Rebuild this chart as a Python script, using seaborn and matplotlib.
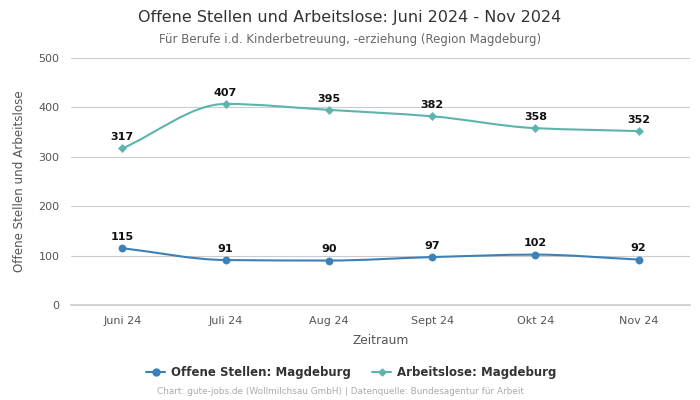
import matplotlib
matplotlib.use("Agg")
import matplotlib.pyplot as plt
import seaborn as sns
import numpy as np
import pandas as pd
from matplotlib.path import Path
from matplotlib.patches import PathPatch

categories = ["Juni 24", "Juli 24", "Aug 24", "Sept 24", "Okt 24", "Nov 24"]
offene = [115, 91, 90, 97, 102, 92]
arbeitslose = [317, 407, 395, 382, 358, 352]
name_off = "Offene Stellen: Magdeburg"
name_arb = "Arbeitslose: Magdeburg"
col_off = "#3b80b9"
col_arb = "#5bb5ae"

sns.set_theme(style="white")
plt.rcParams['font.family'] = ['DejaVu Sans']

df = pd.DataFrame({
    "x": list(range(len(categories))) * 2,
    "v": offene + arbeitslose,
    "s": [name_off] * len(offene) + [name_arb] * len(arbeitslose),
})

fig = plt.figure(figsize=(7, 4), dpi=100)
ax = fig.add_axes([0.101, 0.2375, 0.885, 0.6175])


def monotone_path(xs, ys):
    xs = np.asarray(xs, float); ys = np.asarray(ys, float)
    n = len(xs)
    h = np.diff(xs); d = np.diff(ys) / h
    m = np.zeros(n)
    m[0] = d[0]; m[-1] = d[-1]
    for i in range(1, n - 1):
        if d[i - 1] * d[i] <= 0:
            m[i] = 0
        else:
            w1 = 2 * h[i] + h[i - 1]; w2 = h[i] + 2 * h[i - 1]
            m[i] = (w1 + w2) / (w1 / d[i - 1] + w2 / d[i])
    verts = [(xs[0], ys[0])]; codes = [Path.MOVETO]
    for i in range(n - 1):
        verts += [(xs[i] + h[i] / 3, ys[i] + m[i] * h[i] / 3),
                  (xs[i + 1] - h[i] / 3, ys[i + 1] - m[i + 1] * h[i] / 3),
                  (xs[i + 1], ys[i + 1])]
        codes += [Path.CURVE4] * 3
    return Path(verts, codes)


for name, vals, col, mk, ms in [(name_off, offene, col_off, "o", 5.2), (name_arb, arbeitslose, col_arb, "D", 4.2)]:
    sub = df[df.s == name]
    ax.add_patch(PathPatch(monotone_path(sub.x, sub.v), facecolor="none", edgecolor=col, lw=1.5, zorder=3))
    sns.scatterplot(data=sub, x="x", y="v", color=col, marker=mk, s=ms ** 2, edgecolor=col, ax=ax, zorder=4, legend=False)
    for xi, v in zip(sub.x, sub.v):
        ax.annotate(str(v), (xi, v), xytext=(0, 4.5), textcoords="offset points", ha="center", va="bottom",
                    fontsize=8, fontweight="bold", color="#111111")

ax.set_xlim(-0.5, 5.5)
ax.set_ylim(0, 500)
ax.set_yticks([0, 100, 200, 300, 400, 500])
ax.set_xticks(range(len(categories)))
ax.set_xticklabels(categories)
ax.tick_params(axis="both", labelsize=8, colors="#555555", length=0, pad=8)
ax.grid(axis="y", color="#cccccc", lw=0.8)
ax.set_axisbelow(True)
for s in ["top", "right", "left"]:
    ax.spines[s].set_visible(False)
ax.spines["bottom"].set_color("#cccccc")
ax.set_xlabel("Zeitraum", fontsize=8.8, color="#555555", labelpad=6)
ax.set_ylabel("Offene Stellen und Arbeitslose", fontsize=8.6, color="#555555", labelpad=9)

fig.text(0.5, 0.957, "Offene Stellen und Arbeitslose: Juni 2024 - Nov 2024", ha="center", va="center", fontsize=11.5, color="#333333")
fig.text(0.5, 0.902, "Für Berufe i.d. Kinderbetreuung, -erziehung (Region Magdeburg)", ha="center", va="center", fontsize=8.5, color="#666666")

handles = [plt.Line2D([], [], color=col_off, marker="o", ms=5, lw=1.5),
           plt.Line2D([], [], color=col_arb, marker="D", ms=3.5, lw=1.5)]
fig.legend(handles, [name_off, name_arb], loc="center", bbox_to_anchor=(0.502, 0.068), ncol=2, frameon=False,
           prop={"size": 8.5, "weight": "bold"}, labelcolor="#333333", handlelength=1.6, columnspacing=1.8, handletextpad=0.5)
fig.text(0.486, 0.02, "Chart: gute-jobs.de (Wollmilchsau GmbH) | Datenquelle: Bundesagentur für Arbeit", ha="center", va="center",
         fontsize=6.4, color="#aaaaaa")

fig.savefig("out.png", dpi=100)
